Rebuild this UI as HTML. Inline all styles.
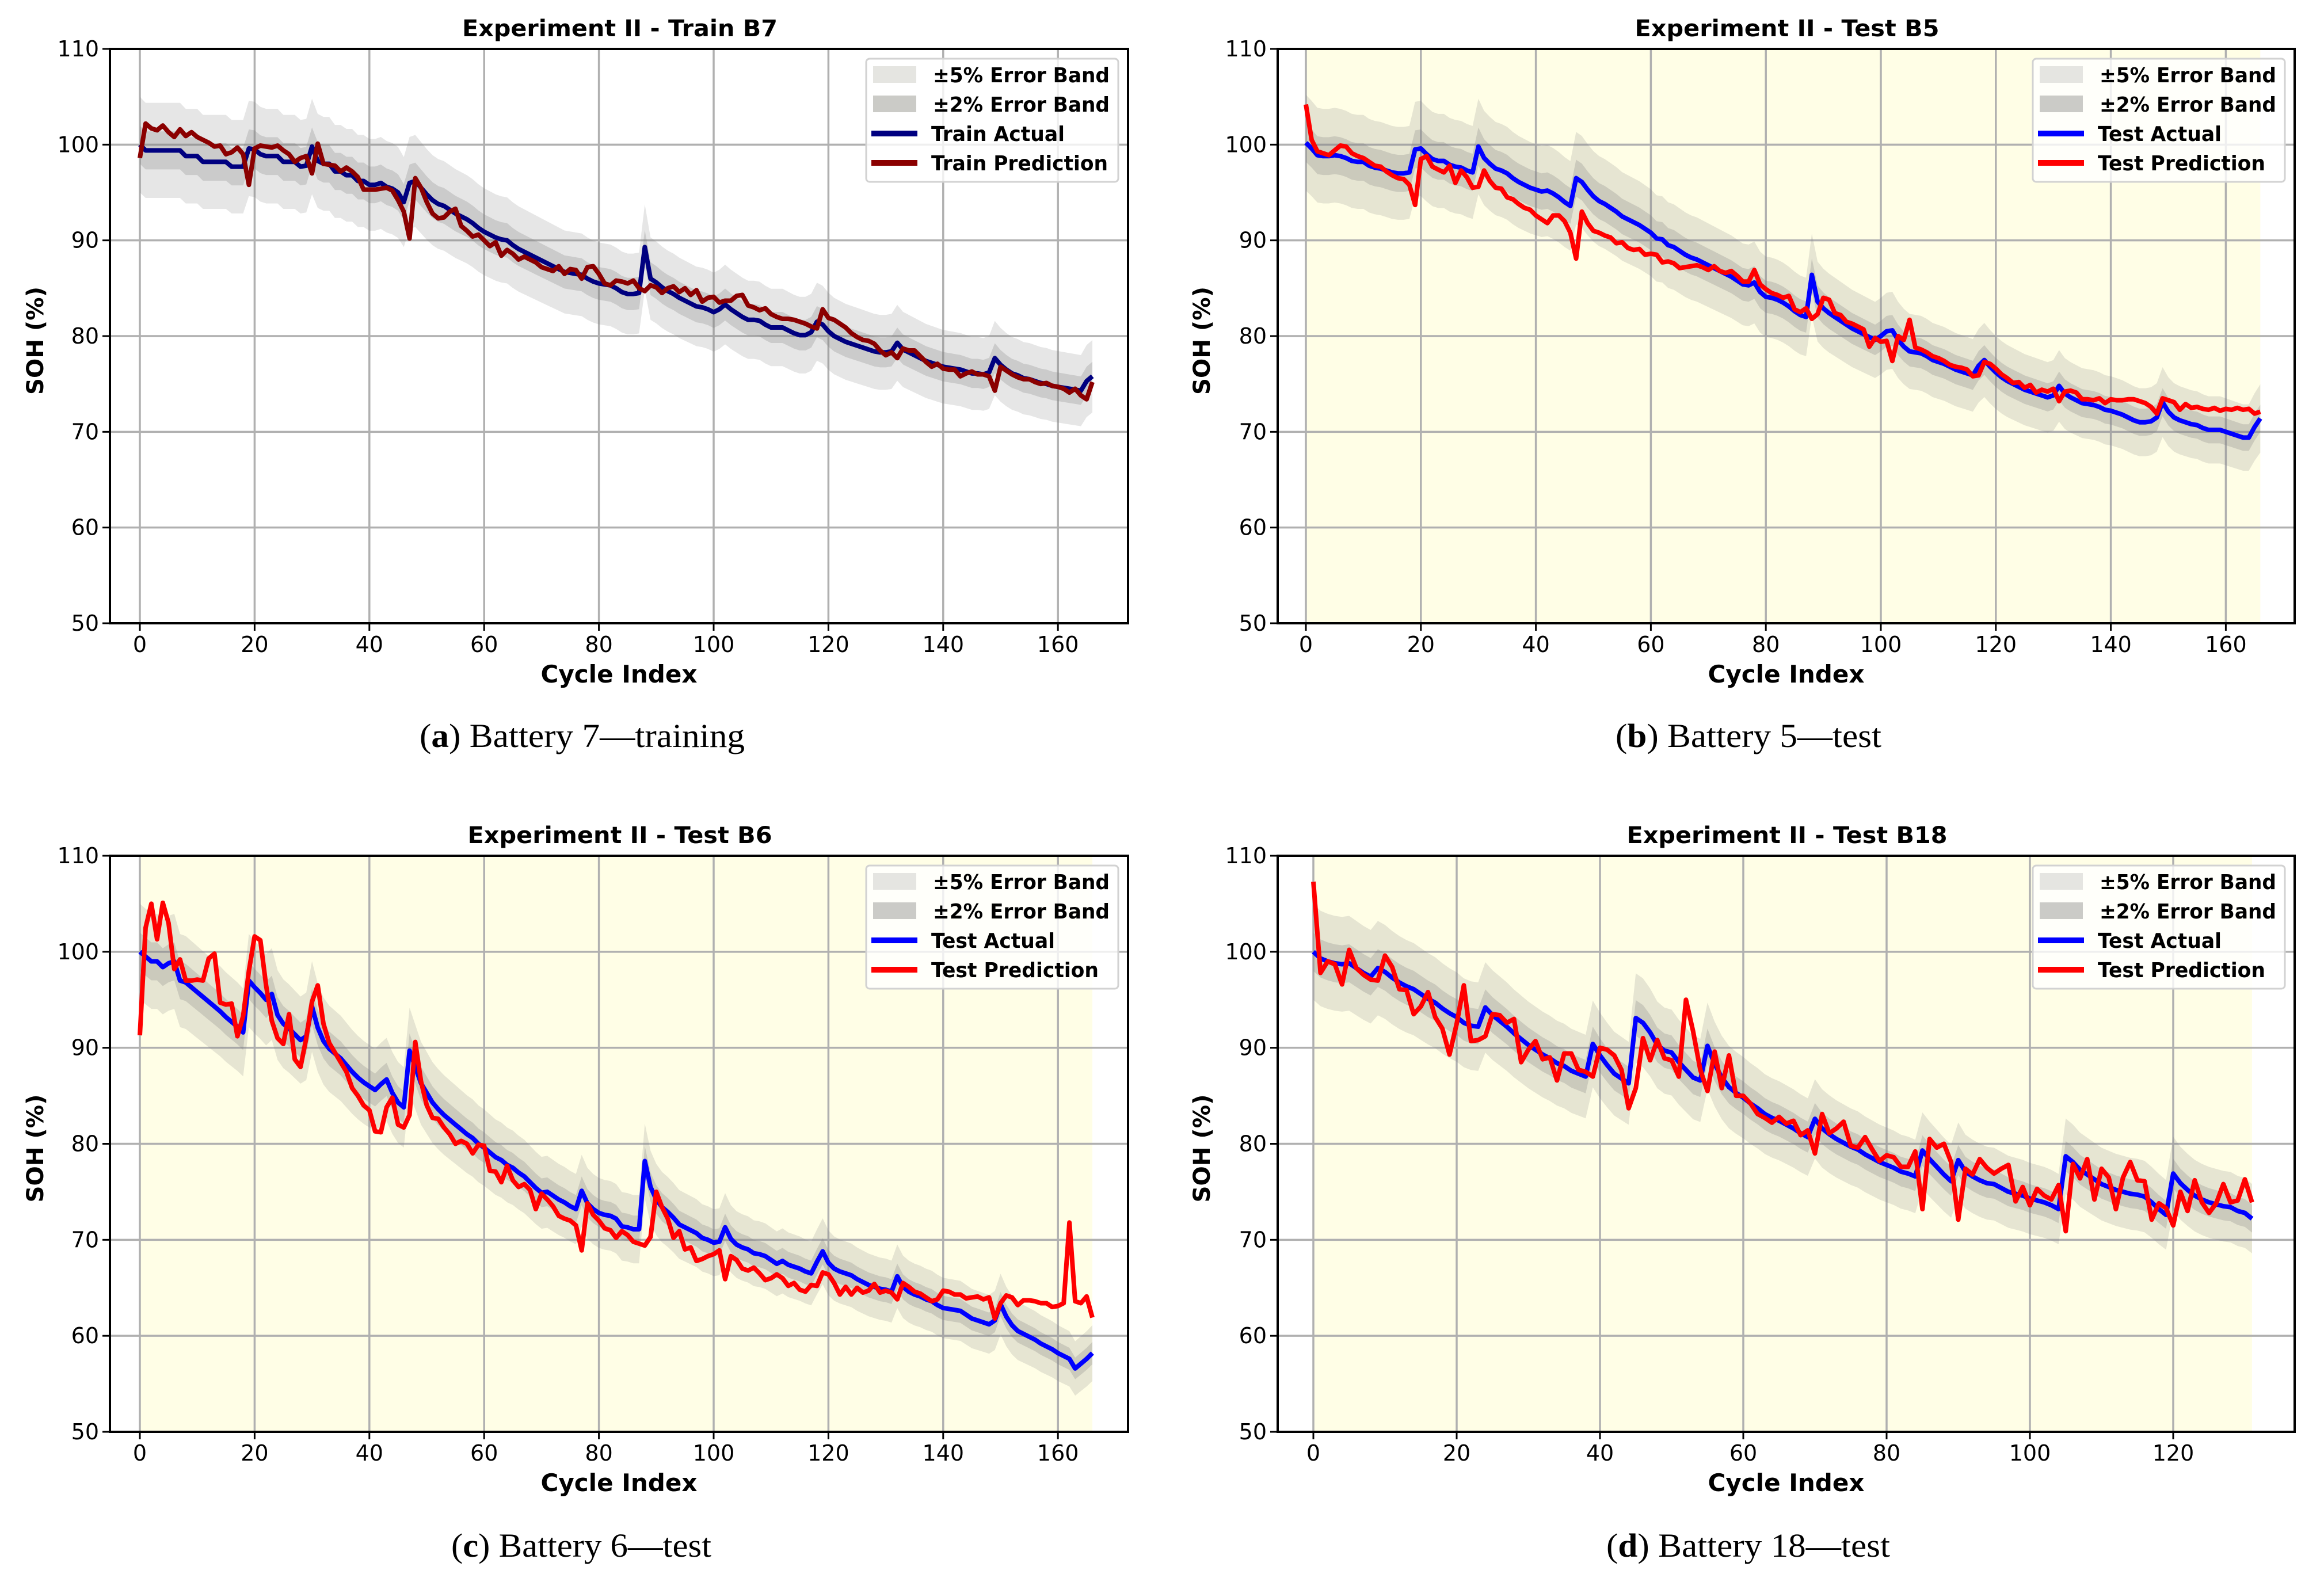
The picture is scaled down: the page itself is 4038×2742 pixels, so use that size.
<!DOCTYPE html>
<html><head><meta charset="utf-8"><style>
html,body{margin:0;padding:0;background:#fff;}
svg{display:block;}
text{font-family:"DejaVu Sans","Liberation Sans",sans-serif;}
.cap{font-family:"Liberation Serif",serif;}
</style></head><body>
<svg id="fig" width="4038" height="2742" viewBox="0 0 4038 2742" xmlns="http://www.w3.org/2000/svg"></svg>
<script>
// ---------- data ----------
const yTicks=[50,60,70,80,90,100,110];
const xTicks166=[0,20,40,60,80,100,120,140,160];
const xTicks131=[0,20,40,60,80,100,120];
const actualB7=[100,99.4,99.4,99.4,99.4,99.4,99.4,99.4,98.8,98.8,98.8,98.2,98.2,98.2,98.2,98.2,97.7,97.7,97.7,99.6,99.5,99,98.8,98.8,98.8,98.2,98.2,98.2,97.7,97.8,99.8,98.3,98,98,97.2,97.2,96.8,96.8,96.2,96.2,95.8,95.8,96,95.6,95.4,95,94,96,96.2,95.5,94.8,94.2,93.8,93.6,93.2,92.8,92.5,92.2,91.8,91.3,90.9,90.6,90.3,90.1,90,89.5,89.1,88.8,88.5,88.2,87.9,87.6,87.3,87,86.7,86.6,86.5,86.4,86,85.7,85.5,85.4,85.3,85,84.6,84.4,84.4,84.5,89.3,86,85.6,85.1,84.7,84.4,84,83.7,83.4,83.1,83,82.8,82.5,82.8,83.3,82.8,82.4,82,81.7,81.7,81.6,81.2,80.9,80.9,80.9,80.6,80.3,80.1,80.1,80.4,81.5,81.2,80.5,80,79.7,79.4,79.2,79,78.8,78.6,78.4,78.3,78.3,78.4,79.3,78.6,78.3,78,77.7,77.4,77.2,77,76.8,76.7,76.6,76.5,76.3,76.1,76.1,76,76.2,77.7,77,76.5,76.1,75.9,75.6,75.5,75.3,75.1,75,74.8,74.7,74.6,74.5,74.4,74.3,75.3,75.8];
const predB7=[98.6,102.2,101.7,101.5,102,101.3,100.8,101.6,100.9,101.3,100.8,100.5,100.2,99.8,99.9,99,99.2,99.7,99,95.8,99.6,99.9,99.8,99.7,99.9,99.4,99,98.2,98.6,98.8,97,100.1,98,97.9,97.8,97.2,97.6,97.2,96.6,95.3,95.3,95.3,95.4,95.5,95.2,94.2,93,90.2,96.5,95.5,94,92.8,92.3,92.4,93,93.3,91.5,91,90.4,90.6,90,89.4,89.8,88.4,89,88.6,88,88.3,88,87.7,87.2,87,86.8,87.3,86.5,87,86.9,86,87.2,87.3,86.5,85.5,85.3,85.8,85.7,85.5,85.8,85,84.7,85.3,85.1,84.5,85,85.2,84.6,85,84.3,84.8,83.6,84,84.1,83.5,83.7,83.7,84.2,84.3,83.2,83,82.7,82.9,82.3,82,81.8,81.8,81.7,81.5,81.3,81,80.8,82.8,81.9,81.7,81.3,80.9,80.3,79.9,79.6,79.5,79.2,78.5,78,78.3,77.7,78.7,78.5,78.5,77.9,77.3,76.8,77.1,76.6,76.5,76.5,75.8,76.1,76.3,76,76,75.8,74.3,76.8,76.4,76,75.7,75.5,75.5,75.2,75,75.1,74.8,74.7,74.5,74.1,74.5,73.8,73.4,75.2];
const actualB5=[100.2,99.6,98.9,98.8,98.8,98.9,98.8,98.6,98.3,98.2,98.2,97.8,97.6,97.5,97.3,97.1,97,97,97.1,99.5,99.6,99,98.5,98.3,98.3,97.9,97.7,97.6,97.3,97.1,99.8,98.6,98,97.5,97.3,97,96.5,96.1,95.8,95.5,95.3,95.1,95.2,94.9,94.5,94,93.6,96.5,96.1,95.3,94.6,94.1,93.8,93.4,93,92.5,92.2,91.9,91.6,91.2,90.8,90.2,90.1,89.5,89.3,88.9,88.5,88.2,88,87.7,87.4,87.1,86.8,86.5,86.2,85.8,85.4,85.3,85.6,84.6,84.1,84,83.8,83.5,83.1,82.6,82.2,82,86.4,83.6,82.9,82.4,82,81.6,81.2,80.8,80.5,80.2,79.9,79.6,80,80.5,80.6,79.6,78.9,78.4,78.3,78.2,77.9,77.5,77.3,77.1,76.8,76.5,76.3,76.1,75.9,76.9,77.5,76.8,76.2,75.7,75.3,75,74.7,74.4,74.2,74,73.8,73.6,73.8,74.8,74,73.6,73.3,73,72.9,72.8,72.6,72.3,72.2,72,71.8,71.5,71.2,71,71,71.1,71.5,73.1,72.1,71.5,71.2,71,70.8,70.7,70.4,70.2,70.2,70.2,70,69.8,69.6,69.4,69.4,70.5,71.4];
const predB5=[104.2,100.5,99.3,99.1,98.9,99.4,99.9,99.8,99.1,98.8,98.6,98.2,97.8,97.7,97.2,96.8,96.5,96.4,95.8,93.7,98.5,98.8,97.7,97.4,97.1,97.8,96,97.3,96.6,95.5,95.6,97.3,96.2,95.5,95.4,94.5,94.3,93.8,93.4,93.2,92.6,92.2,91.8,92.6,92.6,92,90.8,88.1,93,91.8,91,90.8,90.5,90.3,89.7,89.8,89.2,89,89.1,88.5,88.6,88.5,87.7,87.8,87.6,87.1,87.2,87.3,87.4,87.2,86.9,87.3,86.8,86.6,86.8,86.3,85.7,85.7,86.9,85.4,84.9,84.5,84.3,84,84.2,82.8,82.5,82.9,81.8,82.3,84,83.8,82.4,82.2,81.5,81.3,81,80.7,78.9,79.8,79.4,79.5,77.4,80,79.6,81.7,78.8,78.6,78.3,77.9,77.7,77.4,77,76.8,76.7,76.5,75.8,75.9,77.3,77.1,76.6,76,75.6,75.1,75.2,74.6,74.9,74.1,74.4,74.2,74.5,73.2,74.2,74.3,74.1,73.4,73.4,73.3,73.5,73,73.4,73.3,73.3,73.4,73.4,73.2,73,72.6,71.9,73.5,73.3,73.1,72.3,72.9,72.5,72.6,72.4,72.3,72.5,72.2,72.4,72.3,72.5,72.3,72.4,71.9,72.1];
const actualB6=[100,99.5,99,99,98.4,98.8,99,97,96.8,96.3,95.8,95.3,94.8,94.3,93.8,93.2,92.7,92.2,91.6,97,96.3,95.7,95,95.6,93.4,92.5,92,91.4,90.8,91.2,94.3,92.1,90.7,89.9,89.4,88.9,88.2,87.5,86.9,86.4,86,85.6,86.2,86.7,85.3,84.3,83.8,89.7,88,86.3,85.3,84.3,83.6,83,82.5,82,81.5,81,80.6,80,79.6,79.1,78.6,78.3,77.8,77.5,77,76.6,76,75.4,74.9,75,74.6,74.2,73.9,73.5,73.2,75.1,73.8,73.2,72.8,72.6,72.5,72.2,71.4,71.3,71.1,71.1,78.2,75.5,74.2,73.4,72.9,72.3,71.6,71.3,71,70.7,70.2,70,69.7,69.8,71.3,70.1,69.5,69.2,69,68.6,68.5,68.3,67.9,67.5,67.8,67.4,67.2,67,66.7,66.5,67.7,68.8,67.6,67,66.7,66.5,66.3,65.9,65.6,65.3,65.1,64.9,64.8,64.6,66.2,65.1,64.6,64.3,64.1,63.8,63.6,63.2,62.9,62.8,62.7,62.6,62.2,61.8,61.6,61.4,61.2,61.6,63.3,62,61.1,60.5,60.2,59.9,59.6,59.2,58.9,58.6,58.2,57.9,57.6,56.6,57.1,57.6,58.2];
const predB6=[91.3,102.5,105,101.3,105.1,103,98.2,99.2,97,97,97.1,97,99.3,99.8,94.7,94.5,94.6,91.2,93.3,98,101.6,101.2,96.5,92.8,91,90.4,93.5,88.8,88,91,94.8,96.5,92.5,90.5,89.5,88.5,87.5,85.8,85,84,83.5,81.3,81.2,83.8,84.8,82,81.7,83,90.6,86.5,84,82.7,82.6,81.7,81,80,80.3,80,79,79.9,79.8,77.2,77.1,76,77.7,76.2,75.5,75.8,75.2,73.2,74.8,74.2,73.5,72.5,72.2,72,71.5,68.9,73.8,72.6,72,71.2,71,70.2,70.9,70.5,69.8,69.6,69.4,70.3,75,73.4,72.2,70.2,70.9,69,69.2,67.8,68,68.3,68.5,68.9,65.9,68.3,67.9,67,66.8,67.1,66.5,65.8,66,66.4,66,65.2,65.5,64.8,64.6,65.3,65.2,66.6,66.4,65.5,64.3,65.1,64.3,65,64.5,64.7,65.4,64.5,64.7,64.5,63.8,65.5,65.1,64.6,64.4,64,63.6,63.8,64.7,64.6,64.3,64.3,63.9,64,64.1,63.8,64,61.8,63.4,64.2,64,63.2,63.7,63.7,63.6,63.4,63.4,63,63.1,63.4,71.8,63.6,63.4,64.1,61.9];
const actualB18=[100,99.3,99,98.8,98.7,98.8,98.3,97.8,97.4,98.3,97.9,97.3,96.8,96.4,96.1,95.6,95.1,94.7,94.1,93.6,93.2,92.6,92.3,92.2,94.2,93.4,92.8,92.2,91.5,90.9,90.3,89.8,89.3,88.9,88.4,88.1,87.6,87.3,87,90.4,89.2,88.2,87.3,86.8,86.3,93.1,92.6,91.6,90.3,89.7,89.5,88.5,87.7,86.9,86.6,90.2,88.3,86.9,85.9,85.3,84.8,84.2,83.7,83.1,82.7,82.4,82,81.6,81.1,80.7,82.6,81.6,81,80.5,80.1,79.7,79.4,78.9,78.5,78.1,77.8,77.5,77.1,76.9,76.6,79.3,78.4,77.6,76.8,76.1,78.3,77.1,76.6,76.2,75.9,75.8,75.4,75,74.8,74.6,74.3,74.1,73.9,73.6,73.2,78.7,78.1,77.3,76.8,76.3,75.8,75.5,75.2,75,74.8,74.7,74.5,73.9,73.2,72.6,76.9,75.9,75.2,74.6,74.2,73.9,73.7,73.5,73.4,73,72.8,72.2];
const predB18=[107.3,97.8,99,98.7,96.6,100.2,98.3,97.6,97.1,97,99.6,98.4,96.1,96,93.5,94.3,95.8,93.2,92,89.3,92.5,96.5,90.7,90.8,91.2,93.5,93.4,92.6,93,88.5,89.8,90.7,88.8,89,86.6,89.4,89.4,87.7,87.5,87,90,89.8,89.2,87.7,83.7,85.8,91,88.7,90.8,88.9,88.7,87,95,91.7,87.7,85.5,89.6,85.8,89.2,85,85,84.2,83.1,82.7,82.2,82.8,82.1,82.4,80.9,81.4,79,83.1,81.1,81.6,82.3,79.8,79.6,80.7,79.4,78.2,78.8,78.6,77.6,77.6,79.2,73.2,80.5,79.6,80,78.1,72.1,77.4,76.8,78.4,77.5,76.9,77.4,77.8,74,75.5,73.6,75.3,74.6,74.2,75.7,70.9,77.9,76.4,78.4,74.2,77.4,76.5,73.2,76.5,78.1,76.2,76.1,72.1,73.8,73.3,71.5,75,73,76.2,73.9,72.8,73.8,75.8,73.9,74.1,76.3,73.9];
const bandPcts=[5,2];

// ---------- drawing ----------
const NS='http://www.w3.org/2000/svg';
const svg=document.getElementById('fig');
function mk(tag,attrs,parent){const e=document.createElementNS(NS,tag);for(const k in attrs)e.setAttribute(k,attrs[k]);(parent||svg).appendChild(e);return e;}

function drawPanel(p){
  const g=mk('g',{});
  
  
  const X=v=>p.x0+v*p.pu;
  const Y=v=>p.B-(v-50)/60*(p.B-p.T);
  const n=p.act.length;
  const cid='clip-'+p.id;
  const cp=mk('clipPath',{id:cid},g);mk('rect',{x:p.L,y:p.T,width:p.R-p.L,height:p.B-p.T},cp);
  const plot=mk('g',{'clip-path':'url(#'+cid+')'},g);
  if(p.yellow){
    const bg=mk('rect',{x:X(0),y:p.T,width:X(n-1)-X(0),height:p.B-p.T,fill:'#fffee6'},plot);
    
    
  }
  // grid
  p.xt.forEach(t=>{const l=mk('line',{x1:X(t),x2:X(t),y1:p.T,y2:p.B,stroke:'#b0b0b0','stroke-width':3.5},plot);
    
    });
  yTicks.forEach(t=>{const l=mk('line',{x1:p.L,x2:p.R,y1:Y(t),y2:Y(t),stroke:'#b0b0b0','stroke-width':3.5},plot);
    
    });
  // bands
  bandPcts.forEach((pc,bi)=>{
    const up=[],lo=[];
    for(let i=0;i<n;i++){up.push(X(i)+','+Y(p.act[i]*(1+pc/100)));lo.unshift(X(i)+','+Y(p.act[i]*(1-pc/100)));}
    const poly=mk('polygon',{points:up.concat(lo).join(' '),fill:bi===0?'rgba(128,128,128,0.2)':'rgba(128,128,128,0.26)'},plot);
    
    
  });
  // lines
  [[p.act,p.c1,'actual-line'],[p.pred,p.c2,'prediction-line']].forEach(s=>{
    const pts=s[0].map((v,i)=>X(i)+','+Y(v)).join(' ');
    const pl=mk('polyline',{points:pts,fill:'none',stroke:s[1],'stroke-width':8,'stroke-linejoin':'round'},plot);
    
    
  });
  // frame
  const fr=mk('rect',{x:p.L,y:p.T,width:p.R-p.L,height:p.B-p.T,fill:'none',stroke:'#000','stroke-width':4},g);
  
  
  // ticks
  p.xt.forEach(t=>{mk('line',{x1:X(t),x2:X(t),y1:p.B,y2:p.B+13,stroke:'#000','stroke-width':3},g);
    const tx=mk('text',{x:X(t),y:p.B+50,'font-size':38,'text-anchor':'middle',fill:'#000'},g);tx.textContent=t;
    
    });
  yTicks.forEach(t=>{mk('line',{x1:p.L-13,x2:p.L,y1:Y(t),y2:Y(t),stroke:'#000','stroke-width':3},g);
    const tx=mk('text',{x:p.L-19,y:Y(t)+13,'font-size':38,'text-anchor':'end',fill:'#000'},g);tx.textContent=t;
    
    });
  // title & labels
  const ti=mk('text',{x:p.tc,y:p.T-22,'font-size':40,'font-weight':'bold','text-anchor':'middle',textLength:p.tw,lengthAdjust:'spacingAndGlyphs'},g);ti.textContent=p.title;
  
  
  const xl=mk('text',{x:(p.L+p.R)/2,y:p.B+103,'font-size':42,'font-weight':'bold','text-anchor':'middle',textLength:272,lengthAdjust:'spacingAndGlyphs'},g);xl.textContent='Cycle Index';
  
  
  const yc=(p.T+p.B)/2+8;
  const yl=mk('text',{x:p.ylx,y:yc,'font-size':40,'font-weight':'bold','text-anchor':'middle',transform:'rotate(-90 '+p.ylx+' '+yc+')',textLength:188,lengthAdjust:'spacingAndGlyphs'},g);yl.textContent='SOH (%)';
  
  
  // legend
  const lx=p.R-17-438, ly=p.T+17;
  const lg=mk('g',{},g);
  
  
  mk('rect',{x:lx,y:ly,width:438,height:214,rx:6,fill:'rgba(255,255,255,0.8)',stroke:'#d2d2d2','stroke-width':3},lg);
  const rows=[['±5% Error Band',307,'patch','#e5e5e1'],['±2% Error Band',307,'patch','#cbcbc7'],[p.lab1,p.w1,'line',p.c1],[p.lab2,p.w2,'line',p.c2]];
  rows.forEach((r,i)=>{
    const cy=ly+28+i*51;
    if(r[2]==='patch')mk('rect',{x:lx+12,y:cy-15,width:75,height:29,fill:r[3]},lg);
    else mk('line',{x1:lx+9,x2:lx+89,y1:cy,y2:cy,stroke:r[3],'stroke-width':10},lg);
    const t=mk('text',{x:lx+(r[2]==='patch'?116:113),y:cy+13,'font-size':36,'font-weight':'bold',textLength:r[1],lengthAdjust:'spacingAndGlyphs'},lg);t.textContent=r[0];
    
    
  });
  // caption
  const cap=mk('text',{class:'cap',x:p.capx,y:p.capy,'font-size':58,textLength:p.capw,lengthAdjust:'spacingAndGlyphs'},g);
  cap.innerHTML='('+'<tspan font-weight="bold">'+p.capL+'</tspan>) '+p.capT;
  
  
}

drawPanel({id:'panel-a-train-b7',L:191,R:1960,T:85,B:1083,x0:243,pu:9.97,xt:xTicks166,act:actualB7,pred:predB7,c1:'#000080',c2:'#8b0000',yellow:false,
  title:'Experiment II - Train B7',tc:1077,tw:548,ylx:75,lab1:'Train Actual',w1:232,lab2:'Train Prediction',w2:307,capL:'a',capT:'Battery 7—training',capx:729,capy:1298,capw:565});
drawPanel({id:'panel-b-test-b5',L:2220,R:3987,T:85,B:1083,x0:2269,pu:9.99,xt:xTicks166,act:actualB5,pred:predB5,c1:'#0000ff',c2:'#ff0000',yellow:true,
  title:'Experiment II - Test B5',tc:3105,tw:529,ylx:2102,lab1:'Test Actual',w1:215,lab2:'Test Prediction',w2:291,capL:'b',capT:'Battery 5—test',capx:2807,capy:1298,capw:462});
drawPanel({id:'panel-c-test-b6',L:191,R:1960,T:1487,B:2488,x0:243,pu:9.97,xt:xTicks166,act:actualB6,pred:predB6,c1:'#0000ff',c2:'#ff0000',yellow:true,
  title:'Experiment II - Test B6',tc:1077,tw:529,ylx:75,lab1:'Test Actual',w1:215,lab2:'Test Prediction',w2:291,capL:'c',capT:'Battery 6—test',capx:784,capy:2705,capw:452});
drawPanel({id:'panel-d-test-b18',L:2220,R:3987,T:1487,B:2488,x0:2282,pu:12.45,xt:xTicks131,act:actualB18,pred:predB18,c1:'#0000ff',c2:'#ff0000',yellow:true,
  title:'Experiment II - Test B18',tc:3105,tw:557,ylx:2102,lab1:'Test Actual',w1:215,lab2:'Test Prediction',w2:291,capL:'d',capT:'Battery 18—test',capx:2791,capy:2705,capw:493});
</script>
</body></html>
